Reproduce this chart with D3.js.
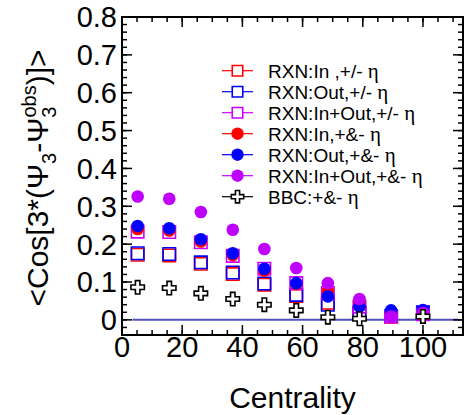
<!DOCTYPE html>
<html>
<head>
<meta charset="utf-8">
<script src="https://cdn.jsdelivr.net/npm/d3@7"></script>
<style>
  body { margin: 0; background: #fff; }
  text { font-family: "Liberation Sans", Arial, Helvetica, sans-serif; }
</style>
</head>
<body>
<svg id="chart" width="465" height="415"></svg>
<script>
// centrality bin centres
var centrality = [5.2, 15.7, 26.2, 36.8, 47.3, 57.9, 68.4, 78.9, 89.4, 100];
var bbcCentrality = [5.2, 15.7, 26.2, 36.8, 47.3, 57.9, 68.4, 78.9, 100];

// <Cos[3(Psi3 - Psi3obs)]> per series
var inPM = [0.172, 0.170, 0.148, 0.121, 0.093, 0.063, 0.045, 0.020, 0.008, 0.018];
var outPM = [0.176, 0.174, 0.152, 0.125, 0.096, 0.066, 0.040, 0.018, 0.010, 0.020];
var inOutPM = [0.233, 0.232, 0.205, 0.169, 0.135, 0.097, 0.071, 0.035, 0.009, 0.015];
var inPandM = [0.240, 0.236, 0.207, 0.171, 0.130, 0.095, 0.075, 0.047, 0.020, 0.022];
var outPandM = [0.248, 0.242, 0.213, 0.176, 0.135, 0.097, 0.062, 0.035, 0.025, 0.026];
var inOutPandM = [0.326, 0.320, 0.285, 0.238, 0.187, 0.137, 0.097, 0.055, 0.009, 0.018];
var bbcPandM = [0.086, 0.084, 0.070, 0.055, 0.040, 0.025, 0.007, 0.003, 0.009];

var seriesNames = ["RXN:In ,+/- \u03b7", "RXN:Out,+/- \u03b7", "RXN:In+Out,+/- \u03b7",
    "RXN:In,+&- \u03b7", "RXN:Out,+&- \u03b7", "RXN:In+Out,+&- \u03b7", "BBC:+&- \u03b7"];

var xTicks = [0, 20, 40, 60, 80, 100];
var yTicks = [0, 0.1, 0.2, 0.3, 0.4, 0.5, 0.6, 0.7, 0.8];
var zeroLine = [3.5, 112];

var series = [
    { name: seriesNames[0], x: centrality, y: inPM, color: "#ff0000", shape: "square" },
    { name: seriesNames[1], x: centrality, y: outPM, color: "#0000ff", shape: "square" },
    { name: seriesNames[2], x: centrality, y: inOutPM, color: "#cc00ff", shape: "square" },
    { name: seriesNames[3], x: centrality, y: inPandM, color: "#ff0000", shape: "circle" },
    { name: seriesNames[4], x: centrality, y: outPandM, color: "#0000ff", shape: "circle" },
    { name: seriesNames[5], x: centrality, y: inOutPandM, color: "#c000ff", shape: "circle" },
    { name: seriesNames[6], x: bbcCentrality, y: bbcPandM, color: "#000000", shape: "cross" }
];

var svg = d3.select("#chart"),
    pLeft = 122, pRight = 463, pTop = 17, pBottom = 335;

var x = d3.scaleLinear().domain([0, 113.3]).range([pLeft, pRight]);
var y = d3.scaleLinear().domain([-0.04, 0.8]).range([pBottom, pTop]);

var symbolOf = {
    square: d3.symbol().type(d3.symbolSquare).size(155),
    circle: d3.symbol().type(d3.symbolCircle).size(125),
    cross: d3.symbol().type(d3.symbolCross).size(100)
};

function styleMarker(sel, s) {
    if (s.shape == "square") {
        sel.attr("fill", "none").attr("stroke", s.color).attr("stroke-width", 1.6);
    } else if (s.shape == "circle") {
        sel.attr("fill", s.color).attr("stroke", "none");
    } else {
        sel.attr("fill", "#fff").attr("stroke", "#000").attr("stroke-width", 1.6);
    }
}

// zero reference line
svg.append("line")
    .attr("x1", x(zeroLine[0])).attr("x2", x(zeroLine[1]))
    .attr("y1", y(0)).attr("y2", y(0))
    .attr("stroke", "#5050bb").attr("stroke-width", 2);

// markers
series.forEach(function (s) {
    var g = svg.append("g");
    g.selectAll("path")
        .data(s.y.map(function (v, i) { return [s.x[i], v]; }))
        .enter().append("path")
        .attr("d", symbolOf[s.shape])
        .attr("transform", function (d) { return "translate(" + x(d[0]) + "," + y(d[1]) + ")"; })
        .call(styleMarker, s);
});

// axes (ticks pointing inwards on all four sides)
var xMajor = d3.range(0, 114, 20), xMinor = d3.range(0, 114, 5);
var yMajor = d3.range(0, 0.801, 0.1), yMinor = d3.range(-0.04, 0.801, 0.02);

var axisG = svg.append("g").attr("stroke", "#000").attr("stroke-width", 1.5);

function vTicks(vals, len, yy, dir) {
    axisG.selectAll(null).data(vals).enter().append("line")
        .attr("x1", function (d) { return x(d); }).attr("x2", function (d) { return x(d); })
        .attr("y1", yy).attr("y2", yy + dir * len);
}
function hTicks(vals, len, xx, dir) {
    axisG.selectAll(null).data(vals).enter().append("line")
        .attr("y1", function (d) { return y(d); }).attr("y2", function (d) { return y(d); })
        .attr("x1", xx).attr("x2", xx + dir * len);
}
vTicks(xMinor, 5, pBottom, -1); vTicks(xMajor, 10, pBottom, -1);
vTicks(xMinor, 5, pTop, 1); vTicks(xMajor, 10, pTop, 1);
hTicks(yMinor, 5, pLeft, 1); hTicks(yMajor, 10, pLeft, 1);
hTicks(yMinor, 5, pRight, -1); hTicks(yMajor, 10, pRight, -1);

svg.append("rect")
    .attr("x", pLeft).attr("y", pTop)
    .attr("width", pRight - pLeft).attr("height", pBottom - pTop)
    .attr("fill", "none").attr("stroke", "#000").attr("stroke-width", 2);

// tick labels
svg.append("g").selectAll("text")
    .data(xTicks).enter().append("text")
    .attr("x", function (d) { return x(d); })
    .attr("y", 357)
    .attr("text-anchor", "middle")
    .attr("font-size", 29)
    .text(function (d) { return d; });

svg.append("g").selectAll("text")
    .data(yTicks).enter().append("text")
    .attr("x", 117)
    .attr("y", function (d) { return y(d); })
    .attr("dy", "0.36em")
    .attr("text-anchor", "end")
    .attr("font-size", 29)
    .text(function (d) { return d3.format(".1~f")(d); });

// axis titles
svg.append("text")
    .attr("x", (pLeft + pRight) / 2)
    .attr("y", 408)
    .attr("text-anchor", "middle")
    .attr("font-size", 30)
    .text("Centrality");

var yt = svg.append("text")
    .attr("transform", "translate(48," + ((pTop + pBottom) / 2 + 2) + ") rotate(-90)")
    .attr("text-anchor", "middle")
    .attr("font-size", 30);
yt.append("tspan").text("<Cos[3*(\u03a8");
yt.append("tspan").attr("font-size", 20).attr("dy", 8).text("3");
yt.append("tspan").attr("dy", -8).text("-\u03a8");
yt.append("tspan").attr("font-size", 20).attr("dy", 8).text("3");
yt.append("tspan").attr("font-size", 20).attr("dx", -11).attr("dy", -20).text("obs");
yt.append("tspan").attr("dy", 12).text(")]>");

// legend
var legend = svg.append("g").selectAll("g")
    .data(series).enter().append("g")
    .attr("transform", function (d, i) { return "translate(0," + (70.7 + i * 21) + ")"; });

legend.append("line")
    .attr("x1", 222).attr("x2", 253)
    .attr("stroke", function (d) { return d.color; })
    .attr("stroke-width", 1.2);

legend.append("path")
    .attr("transform", "translate(237.5,0)")
    .attr("d", function (d) {
        var sz = d.shape == "square" ? 110 : d.shape == "circle" ? 120 : 85;
        return d3.symbol().type(d.shape == "square" ? d3.symbolSquare : d.shape == "circle" ? d3.symbolCircle : d3.symbolCross).size(sz)();
    })
    .each(function (d) { d3.select(this).call(styleMarker, d); })
    .attr("fill", function (d) { return d.shape == "circle" ? d.color : "#fff"; });

var lt = legend.append("text")
    .attr("x", 268)
    .attr("dy", "0.36em")
    .attr("font-size", 19);
lt.append("tspan").text(function (d) { return d.name.slice(0, -1); });
lt.append("tspan")
    .style("font-family", "'Liberation Serif', 'DejaVu Serif', serif")
    .attr("font-size", 21)
    .text(function (d) { return d.name.slice(-1); });
</script>
</body>
</html>
